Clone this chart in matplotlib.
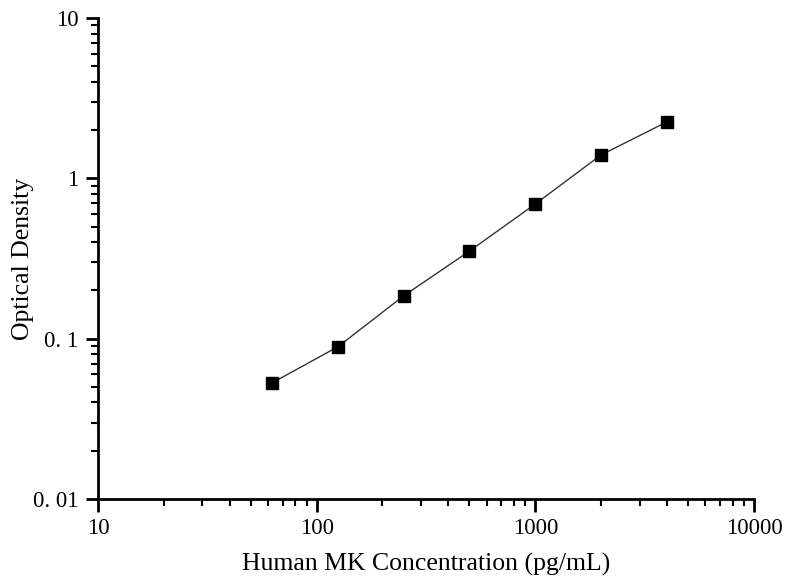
import numpy as np
import matplotlib.pyplot as plt
from matplotlib.ticker import LogLocator, NullFormatter

plt.rcParams['font.family'] = ['Liberation Serif', 'DejaVu Serif']

# standard curve points
conc = [62.5, 125, 250, 500, 1000, 2000, 4000]
od = [0.053, 0.089, 0.185, 0.352, 0.692, 1.40, 2.25]

x_ticks = [10, 100, 1000, 10000]
x_labels = ['10', '100', '1000', '10000']
y_ticks = [0.01, 0.1, 1, 10]
y_labels = ['0. 01', '0. 1', '1', '10']

fig = plt.figure(figsize=(7.91, 5.84), dpi=100)
ax = fig.add_axes([0.1239, 0.1455, 0.8293, 0.8237])

ax.plot(conc, od, color='#333333', linewidth=1.0)
ax.plot(conc, od, linestyle='none', marker='s', markersize=8, color='black')

ax.set_xscale('log')
ax.set_yscale('log')
ax.set_xlim(10, 10000)
ax.set_ylim(0.01, 10)

ax.set_xticks(x_ticks)
ax.set_xticklabels(x_labels)
ax.set_yticks(y_ticks)
ax.set_yticklabels(y_labels)
ax.xaxis.set_minor_locator(LogLocator(base=10, subs=np.arange(2, 10)))
ax.yaxis.set_minor_locator(LogLocator(base=10, subs=np.arange(2, 10)))
ax.xaxis.set_minor_formatter(NullFormatter())
ax.yaxis.set_minor_formatter(NullFormatter())

for side in ['top', 'right']:
    ax.spines[side].set_visible(False)
for side in ['left', 'bottom']:
    ax.spines[side].set_linewidth(2)

ax.tick_params(which='major', direction='out', length=9, width=2, labelsize=16.5, pad=5)
ax.tick_params(which='minor', direction='out', length=5, width=1.5)

ax.set_xlabel('Human MK Concentration (pg/mL)', fontsize=18.5, labelpad=10)
ax.set_ylabel('Optical Density', fontsize=18.5)
ax.yaxis.set_label_coords(-0.098, 0.5)

plt.savefig('out.png', dpi=100)
